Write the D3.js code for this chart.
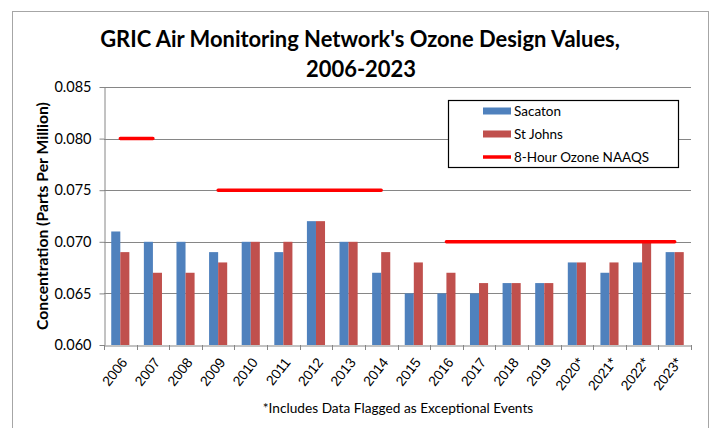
<!DOCTYPE html>
<html><head><meta charset="utf-8">
<script src="https://cdn.jsdelivr.net/npm/d3@7"></script>
<style>body{margin:0;background:#fff;}svg{display:block;font-family:Lato,"Open Sans",sans-serif;}</style>
</head><body><svg id="c" width="710" height="428"></svg>
<script>
const years = ["2006","2007","2008","2009","2010","2011","2012","2013","2014","2015","2016","2017","2018","2019","2020*","2021*","2022*","2023*"];
const sacaton = [0.071,0.070,0.070,0.069,0.070,0.069,0.072,0.070,0.067,0.065,0.065,0.065,0.066,0.066,0.068,0.067,0.068,0.069];
const stJohns = [0.069,0.067,0.067,0.068,0.070,0.070,0.072,0.070,0.069,0.068,0.067,0.066,0.066,0.066,0.068,0.068,0.070,0.069];
const naaqs = [0.080,0.080,null,0.075,0.075,0.075,0.075,0.075,0.075,null,0.070,0.070,0.070,0.070,0.070,0.070,0.070,0.070];
const yTicks = [0.060,0.065,0.070,0.075,0.080,0.085];
const seriesNames = ["Sacaton","St Johns","8-Hour Ozone NAAQS"];
const titleLines = ["GRIC Air Monitoring Network's Ozone Design Values,","2006-2023"];
const yTitle = "Concentration (Parts Per Million)";
const footnote = "*Includes Data Flagged as Exceptional Events";

const colors = {Sacaton:"#4F81BD","St Johns":"#C0504D",naaqs:"#FF0000"};
const svg = d3.select("#c");
const L=104,R=691,T=87,B=345;
const x = d3.scaleBand().domain(years).range([L,R]).paddingInner(0).paddingOuter(0);
const y = d3.scaleLinear().domain([0.060,0.085]).range([B,T]);
const grid="#868686";

// outer border
svg.append("rect").attr("x",12.5).attr("y",11.5).attr("width",696).attr("height",430).attr("fill","none").attr("stroke","#a6a6a6");

// gridlines
svg.append("g").selectAll("line").data(yTicks.slice(1)).join("line")
  .attr("x1",L).attr("x2",R).attr("y1",d=>Math.round(y(d))+0.5).attr("y2",d=>Math.round(y(d))+0.5)
  .attr("stroke",grid).attr("stroke-width",1);

// bars
const bw = x.bandwidth()/3.6;
const g = svg.append("g");
g.selectAll(".s").data(sacaton).join("rect")
  .attr("x",(d,i)=>x(years[i])+x.bandwidth()/2-bw).attr("width",bw)
  .attr("y",d=>y(d)).attr("height",d=>B-y(d)).attr("fill",colors.Sacaton);
g.selectAll(".j").data(stJohns).join("rect")
  .attr("x",(d,i)=>x(years[i])+x.bandwidth()/2).attr("width",bw)
  .attr("y",d=>y(d)).attr("height",d=>B-y(d)).attr("fill",colors["St Johns"]);

// NAAQS line
const line = d3.line().defined(d=>d!=null).x((d,i)=>x(years[i])+x.bandwidth()/2).y(d=>y(d));
svg.append("path").datum(naaqs).attr("d",line).attr("fill","none").attr("stroke",colors.naaqs)
  .attr("stroke-width",3.5).attr("stroke-linecap","round");

// y axis
const ya = svg.append("g").attr("transform",`translate(${L+0.5},0)`)
  .call(d3.axisLeft(y).tickValues(yTicks).tickFormat(d3.format(".3f")).tickSize(5).tickSizeOuter(0));
ya.select(".domain").attr("stroke",grid);
ya.selectAll(".tick line").attr("stroke",grid);
ya.selectAll(".tick text").attr("font-size",14.5).attr("fill","#000").attr("x",-13).attr("font-family","Lato");

// x axis
const xa = svg.append("g").attr("transform",`translate(0,${B+0.5})`)
  .call(d3.axisBottom(x).tickSize(0).tickSizeOuter(0));
xa.select(".domain").attr("stroke",grid);
xa.selectAll(".tick text").attr("font-size",14).attr("fill","#000")
  .attr("text-anchor","end").attr("dy","0.35em").attr("y",0)
  .attr("transform",`translate(4,14) rotate(-52)`);
// x boundary ticks
svg.append("g").selectAll("line").data(years.concat(["_end"])).join("line")
  .attr("x1",(d,i)=>Math.round(L+i*x.bandwidth())+0.5).attr("x2",(d,i)=>Math.round(L+i*x.bandwidth())+0.5)
  .attr("y1",B).attr("y2",B+5).attr("stroke",grid);

// title
const tt = svg.append("g").attr("font-weight","bold").attr("fill","#000").attr("text-anchor","middle");
const t1 = tt.append("text").attr("x",360).attr("y",47).attr("font-size",22).text(titleLines[0]);
const w1 = t1.node().getComputedTextLength();
const fs = 22*520/w1;
t1.attr("font-size",fs);
tt.append("text").attr("x",361).attr("y",77).attr("font-size",fs).text(titleLines[1]);

// y title
const yt = svg.append("text").attr("transform",`translate(48,216) rotate(-90)`).attr("text-anchor","middle")
  .attr("font-weight","bold").attr("font-size",15).text(yTitle);
const wy = yt.node().getComputedTextLength();
yt.attr("font-size",15*228/wy);

// footnote
svg.append("text").attr("x",398).attr("y",413).attr("text-anchor","middle").attr("font-size",13.7).text(footnote);

// legend
const lg = svg.append("g");
lg.append("rect").attr("x",448.5).attr("y",100.5).attr("width",230).attr("height",67).attr("fill","#fff").attr("stroke","#000").attr("stroke-width",1.2);
const ly = [111,134,157];
seriesNames.forEach((n,i)=>{
  if(i<2) lg.append("rect").attr("x",483).attr("y",ly[i]-3.5).attr("width",28).attr("height",7).attr("fill",colors[n]);
  else lg.append("line").attr("x1",483).attr("x2",511).attr("y1",ly[i]).attr("y2",ly[i]).attr("stroke",colors.naaqs).attr("stroke-width",3.5);
  lg.append("text").attr("x",514).attr("y",ly[i]).attr("dy","0.35em").attr("font-size",13.5).text(n);
});
</script></body></html>
